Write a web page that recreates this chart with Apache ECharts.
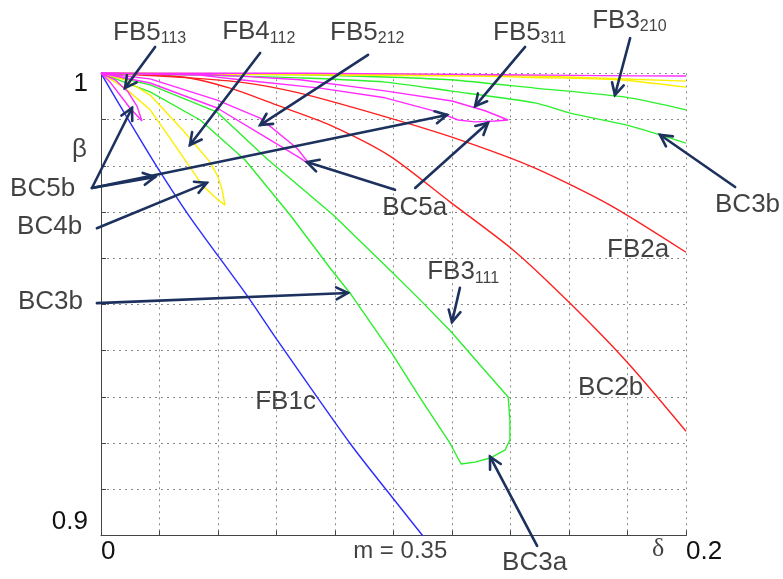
<!DOCTYPE html>
<html>
<head>
<meta charset="utf-8">
<script src="https://cdn.jsdelivr.net/npm/echarts/dist/echarts.min.js"></script>
<style>
  html, body { margin: 0; padding: 0; background: #ffffff; }
  #chart { width: 783px; height: 579px; }
</style>
</head>
<body>
<div id="chart"></div>
<script>
// Bifurcation curves in the (delta, beta) plane, m = 0.35
const xTickLabels = ['0', '0.2'];
const xTickValues = [0, 0.2];
const yTickLabels = ['0.9', '1'];
const yTickValues = [0.9, 1];

// FB1c (blue)
const fb1c = [[0, 1], [0.0096, 0.9897], [0.0192, 0.9797], [0.0304, 0.9689], [0.0503, 0.9516],
  [0.0595, 0.9430], [0.0851, 0.9200], [0.1022, 0.9062], [0.1100, 0.9000]];

// FB2a and BC2b (red)
const fb2a = [[0, 1], [0.0202, 0.9994], [0.0475, 0.9981], [0.0680, 0.9957], [0.0988, 0.9903],
  [0.1227, 0.9856], [0.1484, 0.9795], [0.1740, 0.9715], [0.2, 0.9613]];
const bc2b = [[0, 1], [0.0280, 0.9992], [0.0441, 0.9968], [0.0602, 0.9931], [0.0783, 0.9888],
  [0.0988, 0.9821], [0.1193, 0.9722], [0.1409, 0.9618], [0.1603, 0.9503], [0.1802, 0.9373], [0.2, 0.9226]];

// FB3_210 and BC3b (green, upper pair)
const fb3_210 = [[0, 1], [0.0509, 0.9998], [0.0738, 0.9996], [0.0971, 0.9992], [0.1193, 0.9986],
  [0.1484, 0.9968], [0.1798, 0.9948], [0.2, 0.9921]];
const bc3bUpper = [[0, 1], [0.0338, 0.9996], [0.0680, 0.9990], [0.0971, 0.9981], [0.1193, 0.9962],
  [0.1484, 0.9936], [0.1603, 0.9914], [0.1798, 0.9888], [0.1911, 0.9867], [0.2, 0.9849]];

// FB3_111 branch, BC3a turn and BC3b return branch (green closed tongue)
const fb3_111Loop = [[0, 1], [0.0168, 0.9975], [0.0397, 0.9916], [0.0571, 0.9813], [0.0793, 0.9694],
  [0.0998, 0.9568], [0.1091, 0.9510], [0.1197, 0.9441], [0.1296, 0.9369], [0.1392, 0.9300],
  [0.1398, 0.9250], [0.1398, 0.9207], [0.1381, 0.9185], [0.1330, 0.9168], [0.1279, 0.9159],
  [0.1231, 0.9155], [0.1193, 0.9200], [0.1091, 0.9298], [0.0998, 0.9391], [0.0851, 0.9525],
  [0.0783, 0.9579], [0.0646, 0.9694], [0.0492, 0.9813], [0.0339, 0.9899], [0.0168, 0.9960], [0, 1]];

// FB4_112 tongue and the two upper FB4 curves (yellow)
const fb4_112Loop = [[0, 1], [0.0082, 0.9986], [0.0168, 0.9953], [0.0280, 0.9877], [0.0373, 0.9808],
  [0.0400, 0.9776], [0.0414, 0.9748], [0.0424, 0.9715], [0.0397, 0.9728], [0.0349, 0.9756],
  [0.0304, 0.9797], [0.0236, 0.9860], [0.0168, 0.9921], [0.0082, 0.9968], [0, 1]];
const fb4UpperA = [[0, 1], [0.1022, 0.9998], [0.1484, 0.9994], [0.2, 0.9983]];
const fb4UpperB = [[0, 1], [0.1268, 0.9994], [0.1484, 0.9991], [0.1768, 0.9986], [0.2, 0.9970]];

// FB5 tongues (magenta)
const fb5_113Loop = [[0, 1], [0.0048, 0.9986], [0.0092, 0.9960], [0.0123, 0.9929], [0.0140, 0.9897],
  [0.0099, 0.9925], [0.0065, 0.9953], [0.0031, 0.9981], [0, 1]];
const fb5_212Loop = [[0, 1], [0.0168, 0.9988], [0.0397, 0.9942], [0.0544, 0.9903], [0.0670, 0.9838],
  [0.0715, 0.9802], [0.0680, 0.9817], [0.0568, 0.9860], [0.0397, 0.9925], [0.0168, 0.9979], [0, 1]];
const fb5_311Loop = [[0, 1], [0.0338, 0.9998], [0.0475, 0.9994], [0.0680, 0.9986], [0.0971, 0.9962],
  [0.1200, 0.9940], [0.1313, 0.9919], [0.1392, 0.9899], [0.1347, 0.9897], [0.1279, 0.9895],
  [0.1221, 0.9899], [0.1176, 0.9910], [0.1125, 0.9921], [0.0971, 0.9947], [0.0749, 0.9968],
  [0.0475, 0.9986], [0.0338, 0.9996], [0, 1]];
const fb5Top = [[0, 1], [0.0680, 1.0], [0.1364, 0.9997], [0.1706, 0.9995], [0.2, 0.9994]];

// Curve labels: [delta, beta, name, subscript]
const curveNotes = [
  [0.0041, 1.0087, 'FB5', '113'],
  [0.0414, 1.0089, 'FB4', '112'],
  [0.0783, 1.0087, 'FB5', '212'],
  [0.1340, 1.0087, 'FB5', '311'],
  [0.1679, 1.0113, 'FB3', '210'],
  [-0.0311, 0.9750, 'BC5b', ''],
  [-0.0287, 0.9668, 'BC4b', ''],
  [0.0961, 0.9709, 'BC5a', ''],
  [0.2099, 0.9715, 'BC3b', ''],
  [0.1730, 0.9618, 'FB2a', ''],
  [0.1115, 0.9570, 'FB3', '111'],
  [-0.0284, 0.9505, 'BC3b', ''],
  [0.1631, 0.9319, 'BC2b', ''],
  [0.0527, 0.9289, 'FB1c', ''],
  [0.1371, 0.8941, 'BC3a', '']
];
// Axis names and parameter value: [delta, beta, text, style]
const axisNotes = [
  [0.0862, 0.8967, 'm = 0.35', 'n'],
  [0.1884, 0.8971, 'δ', 'g'],
  [-0.0099, 0.9834, 'β', 'm']
];
// Pointer arrows: [tail delta, tail beta, head delta, head beta]
const pointers = [
  [0.0185, 1.0057, 0.0082, 0.9968],
  [0.0544, 1.0044, 0.0304, 0.9845],
  [0.0913, 1.0040, 0.0544, 0.9888],
  [0.1450, 1.0057, 0.1279, 0.9929],
  [0.1809, 1.0076, 0.1757, 0.9953],
  [0.2168, 0.9754, 0.1911, 0.9867],
  [0.1005, 0.9748, 0.0704, 0.9808],
  [0.1074, 0.9752, 0.1323, 0.9893],
  [-0.0031, 0.9752, 0.0106, 0.9925],
  [-0.0031, 0.9752, 0.0185, 0.9776],
  [-0.0031, 0.9752, 0.1183, 0.9910],
  [-0.0014, 0.9665, 0.0362, 0.9763],
  [-0.0014, 0.9503, 0.0844, 0.9525],
  [0.1227, 0.9536, 0.1200, 0.9462],
  [0.1491, 0.8978, 0.1330, 0.9171]
];

const FONT = "'Liberation Sans', Arial, sans-serif";
const BLUE = '#2b2bff', RED = '#ff1f1f', GREEN = '#2cf02c', YELLOW = '#ffee00', MAGENTA = '#ff2bff';
const ARROW = '#1c315e';

function curve(name, data, color, smooth) {
  return {
    name: name, type: 'line', data: data, showSymbol: false, symbol: 'none',
    smooth: smooth, clip: false, silent: true,
    lineStyle: { color: color, width: 1.4 }
  };
}

function tickText(v, values, labels) {
  for (let i = 0; i < values.length; i++) {
    if (Math.abs(v - values[i]) < 1e-9) return labels[i];
  }
  return '';
}

function renderPointer(params, api) {
  const a = api.coord([api.value(0), api.value(1)]);
  const b = api.coord([api.value(2), api.value(3)]);
  const ang = Math.atan2(b[1] - a[1], b[0] - a[0]);
  const len = 13, spread = Math.PI / 6.5;
  const h1 = [b[0] - len * Math.cos(ang - spread), b[1] - len * Math.sin(ang - spread)];
  const h2 = [b[0] - len * Math.cos(ang + spread), b[1] - len * Math.sin(ang + spread)];
  const st = { stroke: ARROW, lineWidth: 2.6, fill: null, lineCap: 'round', lineJoin: 'miter' };
  return {
    type: 'group',
    children: [
      { type: 'line', shape: { x1: a[0], y1: a[1], x2: b[0], y2: b[1] }, style: st },
      { type: 'polyline', shape: { points: [h1, b, h2] }, style: st }
    ]
  };
}

const chart = echarts.init(document.getElementById('chart'), null, { renderer: 'canvas' });
chart.setOption({
  animation: false,
  backgroundColor: '#ffffff',
  grid: { left: 101, right: 97, top: 73.3, bottom: 43.3, containLabel: false, outerBoundsMode: 'none' },
  xAxis: {
    type: 'value', min: 0, max: 0.2, interval: 0.02,
    axisLine: { show: true, onZero: false, lineStyle: { color: '#444', width: 1 } },
    axisTick: { show: true, inside: true, length: 5, lineStyle: { color: '#444' } },
    splitLine: { show: true, lineStyle: { type: [2, 4], color: '#8a8a8a', width: 1 } },
    axisLabel: {
      show: true, showMinLabel: true, showMaxLabel: true, margin: 3, align: 'left',
      color: '#111', fontSize: 26, fontFamily: FONT,
      formatter: v => tickText(v, xTickValues, xTickLabels)
    }
  },
  yAxis: {
    type: 'value', min: 0.9, max: 1, interval: 0.01,
    axisLine: { show: true, onZero: false, lineStyle: { color: '#444', width: 1 } },
    axisTick: { show: true, inside: true, length: 5, lineStyle: { color: '#444' } },
    splitLine: { show: true, lineStyle: { type: [2, 4], color: '#8a8a8a', width: 1 } },
    axisLabel: {
      show: true, showMinLabel: true, showMaxLabel: true, margin: 13,
      color: '#111', fontSize: 26, fontFamily: FONT,
      formatter: v => {
        const t = tickText(v, yTickValues, yTickLabels);
        if (!t) return '';
        return Math.abs(v - 1) < 1e-9 ? '{t|' + t + '}' : '{b|' + t + '}';
      },
      rich: {
        t: { fontSize: 26, fontFamily: FONT, color: '#111', padding: [22, 0, 0, 0] },
        b: { fontSize: 26, fontFamily: FONT, color: '#111', padding: [0, 0, 28, 0] }
      }
    }
  },
  series: [
    curve('FB1c', fb1c, BLUE, 0.25),
    curve('FB2a', fb2a, RED, 0.25),
    curve('BC2b', bc2b, RED, 0.25),
    curve('FB3_210', fb3_210, GREEN, 0.25),
    curve('BC3b', bc3bUpper, GREEN, 0.25),
    curve('FB3_111', fb3_111Loop, GREEN, false),
    curve('FB4_112', fb4_112Loop, YELLOW, false),
    curve('FB4a', fb4UpperA, YELLOW, 0.25),
    curve('FB4b', fb4UpperB, YELLOW, 0.25),
    curve('FB5_113', fb5_113Loop, MAGENTA, false),
    curve('FB5_212', fb5_212Loop, MAGENTA, false),
    curve('FB5_311', fb5_311Loop, MAGENTA, false),
    curve('FB5', fb5Top, MAGENTA, 0.25),
    {
      type: 'custom', name: 'pointers', data: pointers, renderItem: renderPointer,
      clip: false, silent: true, z: 8, encode: { x: [0, 2], y: [1, 3] }
    },
    {
      type: 'scatter', name: 'curveNotes', data: curveNotes, symbolSize: 0.1, clip: false, silent: true, z: 9,
      itemStyle: { color: 'rgba(0,0,0,0)' },
      label: {
        show: true, position: 'right', distance: 0,
        formatter: p => p.data[3] ? '{m|' + p.data[2] + '}{s|' + p.data[3] + '}' : '{m|' + p.data[2] + '}',
        rich: {
          m: { fontSize: 26, lineHeight: 28, color: '#111', fontFamily: FONT },
          s: { fontSize: 16, lineHeight: 14, verticalAlign: 'bottom', color: '#111', fontFamily: FONT }
        }
      }
    },
    {
      type: 'scatter', name: 'axisNotes', data: axisNotes, symbolSize: 0.1, clip: false, silent: true, z: 9,
      itemStyle: { color: 'rgba(0,0,0,0)' },
      label: {
        show: true, position: 'right', distance: 0,
        formatter: p => '{' + p.data[3] + '|' + p.data[2] + '}',
        rich: {
          m: { fontSize: 26, color: '#111', fontFamily: FONT },
          n: { fontSize: 24, color: '#111', fontFamily: FONT },
          g: { fontSize: 26, color: '#111', fontFamily: "'Liberation Serif', serif" }
        }
      }
    }
  ]
});
</script>
</body>
</html>
